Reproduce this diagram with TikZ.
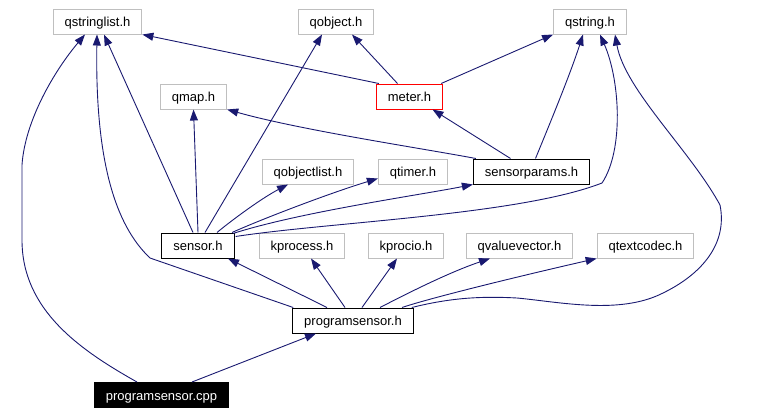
\documentclass[tikz,border=0pt]{standalone}
\usepackage{fontspec}
\setmainfont{Liberation Sans}
\usetikzlibrary{arrows.meta, calc}
\definecolor{cedge}{RGB}{25,25,112}
\definecolor{cgray}{RGB}{191,191,191}
\definecolor{cred}{RGB}{255,0,0}
\tikzset{
  hbox/.style={    % external header (gray frame)
    draw=cgray, fill=white, line width=1pt,
    minimum height=25pt, inner xsep=11.5pt, inner ysep=2pt,
    text height=13pt, text depth=3pt,
    font=\fontsize{13}{15}\selectfont
  },
  pbox/.style={    % project header (black frame)
    hbox, draw=black
  },
  mbox/.style={    % documented header (red frame)
    hbox, draw=cred
  },
  rbox/.style={    % root file (black, white text)
    hbox, draw=black, fill=black, text=white
  },
  iarr/.style={-{Triangle[length=11pt, width=8pt]}, line width=0.9pt, color=cedge},
}
\begin{document}
\begin{tikzpicture}[x=1pt, y=-1pt]
\useasboundingbox (0,0) rectangle (767,415);

%% ─── TOP ROW ─────────────────────────────────────────────────────────────────
\node[hbox] (qstringlist) at ( 97.5, 21.5) {qstringlist.h};
\node[hbox] (qobject)     at (336.0, 21.5) {qobject.h};
\node[hbox] (qstring)     at (590.0, 21.5) {qstring.h};

%% ─── SECOND ROW ──────────────────────────────────────────────────────────────
\node[hbox] (qmap)  at (193.5, 96.5) {qmap.h};
\node[mbox] (meter) at (409.5, 96.5) {meter.h};

%% ─── THIRD ROW ───────────────────────────────────────────────────────────────
\node[hbox] (qobjectlist)  at (308.0, 171.5) {qobjectlist.h};
\node[hbox] (qtimer)       at (413.0, 171.5) {qtimer.h};
\node[pbox] (sensorparams) at (531.5, 171.5) {sensorparams.h};

%% ─── FOURTH ROW ──────────────────────────────────────────────────────────────
\node[pbox] (sensor)       at (198.0, 245.5) {sensor.h};
\node[hbox] (kprocess)     at (302.0, 245.5) {kprocess.h};
\node[hbox] (kprocio)      at (406.0, 245.5) {kprocio.h};
\node[hbox] (qvaluevector) at (519.5, 245.5) {qvaluevector.h};
\node[hbox] (qtextcodec)   at (645.5, 245.5) {qtextcodec.h};

%% ─── BOTTOM ──────────────────────────────────────────────────────────────────
\node[pbox] (programsensor) at (353.0, 320.5) {programsensor.h};
\node[rbox] (cpp)           at (161.5, 395.0) {programsensor.cpp};

%% meter.h
\draw[iarr] ([xshift=3]meter.north west) -- (qstringlist.south east);
\draw[iarr] ([xshift=-12]meter.north) -- ([xshift=16]qobject.south);
\draw[iarr] ([xshift=-2]meter.north east) -- (qstring.south west);

%% sensorparams.h
\draw[iarr] ([xshift=-21]sensorparams.north) -- ([xshift=23]meter.south);
\draw[iarr] ([xshift=4]sensorparams.north)
  .. controls (548,128) and (570,75) .. ([xshift=-7]qstring.south);
\draw[iarr] ([xshift=3]sensorparams.north west)
  .. controls (420,148) and (300,130) .. (qmap.south east);

%% sensor.h
\draw[iarr] ([xshift=-5]sensor.north) -- ([xshift=6.5]qstringlist.south);
\draw[iarr] (sensor.north) -- (qmap.south);
\draw[iarr] ([xshift=7]sensor.north) -- ([xshift=-14]qobject.south);
\draw[iarr] ([xshift=19]sensor.north)
  .. controls (232,220) and (262,198) .. ([xshift=-20]qobjectlist.south);
\draw[iarr] ([xshift=34]sensor.north)
  .. controls (262,219) and (330,193) .. ([yshift=6]qtimer.south west);
\draw[iarr] ([xshift=35, yshift=-1]sensor.north)
  .. controls (300,212) and (420,195) .. (sensorparams.south west);
\draw[iarr] ([xshift=1, yshift=-4]sensor.north east)
  .. controls (330,222) and (520,215) .. (602,183)
  .. controls (624,150) and (620,80) .. ([xshift=10]qstring.south);

%% programsensor.h
\draw[iarr] ([xshift=-26]programsensor.north) -- ([xshift=30]sensor.south);
\draw[iarr] ([xshift=1]programsensor.north west) -- (150,258)
  .. controls (115,225) and (95,160) .. ([xshift=-0.5]qstringlist.south);
\draw[iarr] ([xshift=-8]programsensor.north) -- ([xshift=9]kprocess.south);
\draw[iarr] ([xshift=9]programsensor.north) -- ([xshift=-9]kprocio.south);
\draw[iarr] ([xshift=27]programsensor.north)
  .. controls (410,292) and (450,272) .. ([xshift=-29.5]qvaluevector.south);
\draw[iarr] ([xshift=49]programsensor.north)
  .. controls (430,298) and (520,276) .. (qtextcodec.south west);
\draw[iarr] ([xshift=-2]programsensor.north east)
  .. controls (450,298) and (480,296) .. (517,298)
  .. controls (560,302) and (620,315) .. (663,293)
  .. controls (700,275) and (728,245) .. (720,205)
  .. controls (690,150) and (625,90) .. ([xshift=25]qstring.south);

%% programsensor.cpp
\draw[iarr] ([xshift=30.5]cpp.north) -- ([xshift=-37]programsensor.south);
\draw[iarr] ([xshift=-24.5]cpp.north)
  .. controls (80,350) and (22,310) .. (22,240) -- (22,165)
  .. controls (25,120) and (55,70) .. ([xshift=-12.5]qstringlist.south);

\end{tikzpicture}
\end{document}
